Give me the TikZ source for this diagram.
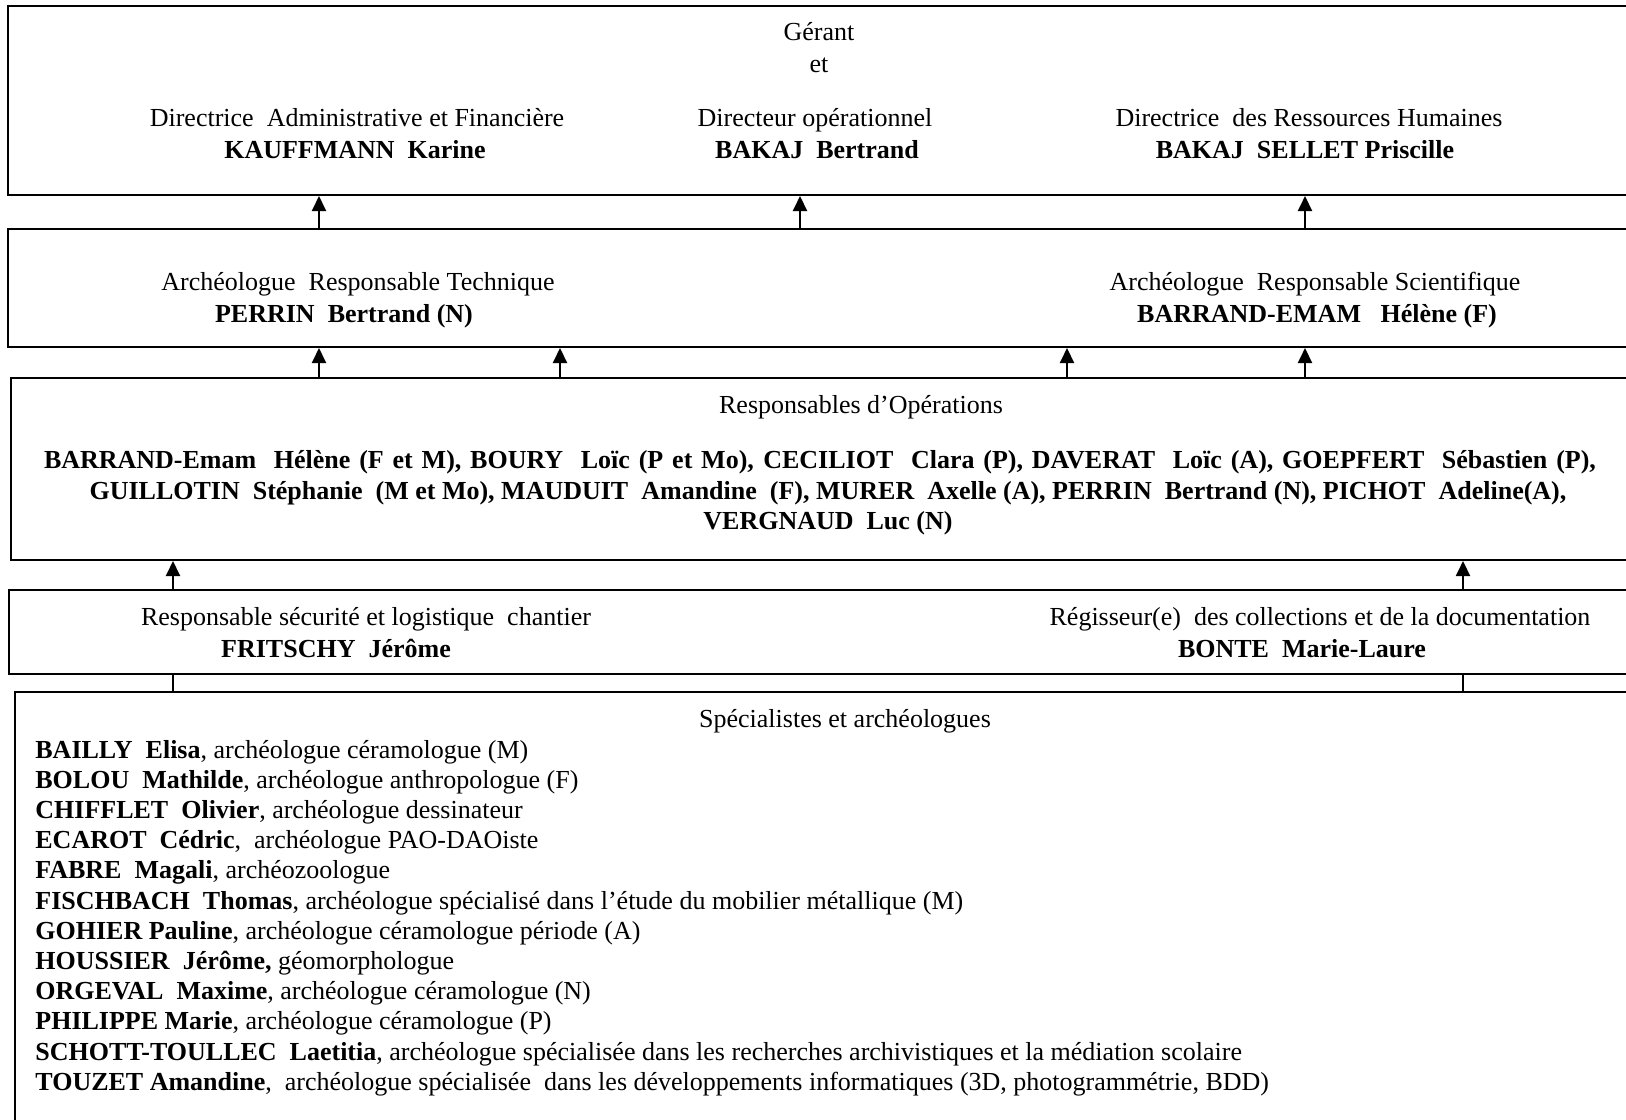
\documentclass[tikz,border=0pt]{standalone}
\usepackage{fontspec}
\setmainfont{Liberation Serif}
\usetikzlibrary{arrows.meta,fit}
\begin{document}
\begin{tikzpicture}[x=0.5pt,y=-0.5pt,
  box/.style={draw, line width=1pt, inner sep=0pt},
  arr/.style={-{Triangle[width=7pt,length=7.5pt]}, line width=1pt},
  link/.style={line width=1pt},
  lbl/.style={anchor=base, inner sep=0pt, font=\fontsize{13}{15}\selectfont},
  lblb/.style={anchor=base, inner sep=0pt, font=\fontsize{13}{15}\selectfont\bfseries},
  item/.style={anchor=base west, inner sep=0pt, font=\fontsize{13}{15}\selectfont}]
\useasboundingbox (0,0) rectangle (1626,1119);
\clip (0,0) rectangle (1626,1119);
% boxes
\node[box, fit={(8,6) (1650,195)}] (b1) {};
\node[box, fit={(8,229) (1650,347)}] (b2) {};
\node[box, fit={(11,378) (1650,560)}] (b3) {};
\node[box, fit={(9,590) (1650,674)}] (b4) {};
\node[box, fit={(15,692) (1650,1140)}] (b5) {};
% box 1
\node[lbl] (gerant) at (819,40) {Gérant};
\node[lbl] (et) at (819,72) {et};
\node[lbl] (daf) at (357,126) {Directrice\ \ Administrative et Financière};
\node[lblb] (dafn) at (355,158) {KAUFFMANN\ \ Karine};
\node[lbl] (dop) at (815,126) {Directeur opérationnel};
\node[lblb] (dopn) at (817,158) {BAKAJ\ \ Bertrand};
\node[lbl] (drh) at (1309,126) {Directrice\ \ des Ressources Humaines};
\node[lblb] (drhn) at (1305,158) {BAKAJ\ \ SELLET Priscille};
% box 2
\node[lbl] (art) at (358,290) {Archéologue\ \ Responsable Technique};
\node[lblb] (artn) at (344,322) {PERRIN\ \ Bertrand (N)};
\node[lbl] (ars) at (1315,290) {Archéologue\ \ Responsable Scientifique};
\node[lblb] (arsn) at (1317,322) {BARRAND-EMAM\ \ \ Hélène (F)};
% box 3
\node[lbl] (ro) at (861,413) {Responsables d’Opérations};
\node[lblb] (rol1) at (820,468) {\makebox[776pt][s]{BARRAND-Emam\ \ Hélène (F et M), BOURY\ \ Loïc (P et Mo), CECILIOT\ \ Clara (P), DAVERAT\ \ Loïc (A), GOEPFERT\ \ Sébastien (P),}};
\node[lblb] (rol2) at (828,499) {GUILLOTIN\ \ Stéphanie\ \ (M et Mo), MAUDUIT\ \ Amandine\ \ (F), MURER\ \ Axelle (A), PERRIN\ \ Bertrand (N), PICHOT\ \ Adeline(A),};
\node[lblb] (rol3) at (828,529) {VERGNAUD\ \ Luc (N)};
% box 4
\node[lbl] (rs) at (366,625) {Responsable sécurité et logistique\ \ chantier};
\node[lblb] (rsn) at (336,657) {FRITSCHY\ \ Jérôme};
\node[lbl] (rc) at (1320,625) {Régisseur(e)\ \ des collections et de la documentation};
\node[lblb] (rcn) at (1302,657) {BONTE\ \ Marie-Laure};
% box 5
\node[lbl] (sp) at (845,727) {Spécialistes et archéologues};
\node[item] (l1) at (35,758) {\textbf{BAILLY\ \ Elisa}, archéologue céramologue (M)};
\node[item] (l2) at (35,788.2) {\textbf{BOLOU\ \ Mathilde}, archéologue anthropologue (F)};
\node[item] (l3) at (35,818.4) {\textbf{CHIFFLET\ \ Olivier}, archéologue dessinateur};
\node[item] (l4) at (35,848.6) {\textbf{ECAROT\ \ Cédric},\ \ archéologue PAO-DAOiste};
\node[item] (l5) at (35,878.8) {\textbf{FABRE\ \ Magali}, archéozoologue};
\node[item] (l6) at (35,909) {\textbf{FISCHBACH\ \ Thomas}, archéologue spécialisé dans l’étude du mobilier métallique (M)};
\node[item] (l7) at (35,939.2) {\textbf{GOHIER Pauline}, archéologue céramologue période (A)};
\node[item] (l8) at (35,969.4) {\textbf{HOUSSIER\ \ Jérôme,} géomorphologue};
\node[item] (l9) at (35,999.6) {\textbf{ORGEVAL\ \ Maxime}, archéologue céramologue (N)};
\node[item] (l10) at (35,1029.8) {\textbf{PHILIPPE Marie}, archéologue céramologue (P)};
\node[item] (l11) at (35,1060) {\textbf{SCHOTT-TOULLEC\ \ Laetitia}, archéologue spécialisée dans les recherches archivistiques et la médiation scolaire};
\node[item] (l12) at (35,1090.2) {\textbf{TOUZET Amandine},\ \ archéologue spécialisée\ \ dans les développements informatiques (3D, photogrammétrie, BDD)};
% connector x positions
\coordinate (xa) at (319,0);
\coordinate (xb) at (800,0);
\coordinate (xc) at (1305,0);
\coordinate (xd) at (560,0);
\coordinate (xe) at (1067,0);
\coordinate (xf) at (173,0);
\coordinate (xg) at (1463,0);
% arrows
\draw[arr] (xa |- b2.north) -- (xa |- b1.south);
\draw[arr] (xb |- b2.north) -- (xb |- b1.south);
\draw[arr] (xc |- b2.north) -- (xc |- b1.south);
\draw[arr] (xa |- b3.north) -- (xa |- b2.south);
\draw[arr] (xd |- b3.north) -- (xd |- b2.south);
\draw[arr] (xe |- b3.north) -- (xe |- b2.south);
\draw[arr] (xc |- b3.north) -- (xc |- b2.south);
\draw[arr] (xf |- b4.north) -- (xf |- b3.south);
\draw[arr] (xg |- b4.north) -- (xg |- b3.south);
\draw[link] (xf |- b5.north) -- (xf |- b4.south);
\draw[link] (xg |- b5.north) -- (xg |- b4.south);
\end{tikzpicture}
\end{document}
